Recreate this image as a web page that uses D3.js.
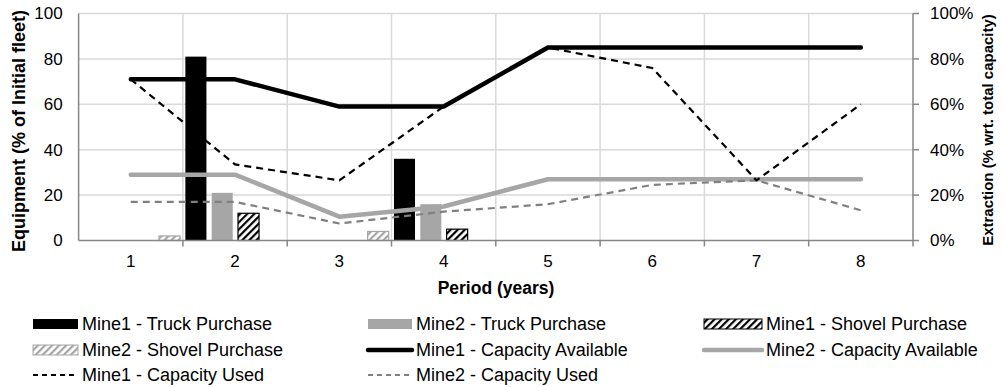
<!DOCTYPE html>
<html><head><meta charset="utf-8">
<script src="https://cdn.jsdelivr.net/npm/d3@7"></script>
<style>
body{margin:0;background:#fff;}
text{font-family:"Liberation Sans",Arial,sans-serif;fill:#000;}
</style></head>
<body><svg id="c" width="1003" height="387"></svg>
<script>
const periods = [1,2,3,4,5,6,7,8];
const leftTicks = [0,20,40,60,80,100];
const rightTicks = [0,0.2,0.4,0.6,0.8,1.0];
// bar series (Equipment, % of initial fleet)
const mine1Truck  = [0,81,0,36,0,0,0,0];
const mine2Truck  = [0,21,0,16,0,0,0,0];
const mine1Shovel = [0,12,0,5,0,0,0,0];
const mine2Shovel = [0,2,0,4,0,0,0,0];
// line series (Extraction, fraction of total capacity)
const mine1CapAvail = [0.71,0.71,0.59,0.59,0.85,0.85,0.85,0.85];
const mine2CapAvail = [0.29,0.29,0.105,0.15,0.27,0.27,0.27,0.27];
const mine1CapUsed  = [0.71,0.335,0.265,0.59,0.85,0.76,0.265,0.60];
const mine2CapUsed  = [0.17,0.17,0.075,0.127,0.16,0.245,0.265,0.133];

const svg = d3.select("#c");
const L=78.6, R=913, T=13.5, B=240.5;
const x = d3.scaleBand().domain(periods).range([L,R]);
const cx = p => x(p)+x.bandwidth()/2;
const y = d3.scaleLinear().domain([0,100]).range([B,T]);
const y2 = d3.scaleLinear().domain([0,1]).range([B,T]);

// patterns
const defs = svg.append("defs");
function hatch(id,color){
  const p = defs.append("pattern").attr("id",id).attr("patternUnits","userSpaceOnUse")
    .attr("width",5).attr("height",5).attr("patternTransform","rotate(45)");
  p.append("rect").attr("width",5).attr("height",5).attr("fill","#fff");
  p.append("rect").attr("width",2.2).attr("height",5).attr("fill",color);
}
hatch("h1","#000");
hatch("h2","#a6a6a6");

// gridlines
const g = svg.append("g");
g.selectAll(".hg").data(leftTicks.slice(1)).join("line")
  .attr("x1",L).attr("x2",R).attr("y1",d=>y(d)).attr("y2",d=>y(d))
  .attr("stroke","#d9d9d9").attr("stroke-width",1.5);
g.selectAll(".vg").data(periods.slice(1)).join("line")
  .attr("x1",d=>x(d)).attr("x2",d=>x(d)).attr("y1",T).attr("y2",B)
  .attr("stroke","#d9d9d9").attr("stroke-width",1.5);

// bars
const inner = d3.scaleBand().domain(["s2","t1","t2","s1"]).range([-76,24]).paddingInner(0.2);
const barSeries = [
  {k:"s2", v:mine2Shovel, fill:"url(#h2)", stroke:"#a6a6a6"},
  {k:"t1", v:mine1Truck, fill:"#000", stroke:"none"},
  {k:"t2", v:mine2Truck, fill:"#a6a6a6", stroke:"none"},
  {k:"s1", v:mine1Shovel, fill:"url(#h1)", stroke:"#000"}
];
barSeries.forEach(s=>{
  svg.append("g").selectAll("rect").data(periods.map((p,i)=>({p,v:s.v[i]})).filter(d=>d.v>0)).join("rect")
    .attr("x",d=>cx(d.p)+inner(s.k)).attr("width",inner.bandwidth())
    .attr("y",d=>y(d.v)).attr("height",d=>B-y(d.v))
    .attr("fill",s.fill).attr("stroke",s.stroke).attr("stroke-width",1.2);
});

// lines
const lineGen = d3.line().x((d,i)=>cx(periods[i])).y(d=>y2(d));
const lines = [
  {v:mine2CapAvail, c:"#a6a6a6", w:4.5, dash:null},
  {v:mine2CapUsed, c:"#808080", w:2.2, dash:"7,5"},
  {v:mine1CapAvail, c:"#000", w:4.5, dash:null},
  {v:mine1CapUsed, c:"#000", w:2.2, dash:"7,5"}
];
lines.forEach(l=>{
  svg.append("path").attr("d",lineGen(l.v)).attr("fill","none")
    .attr("stroke",l.c).attr("stroke-width",l.w).attr("stroke-dasharray",l.dash)
    .attr("stroke-linejoin","round").attr("stroke-linecap", l.dash?"butt":"round");
});

// axes
const ax = svg.append("g").attr("stroke","#868686").attr("stroke-width",1.5);
ax.append("line").attr("x1",L).attr("x2",L).attr("y1",T).attr("y2",B);
ax.append("line").attr("x1",R).attr("x2",R).attr("y1",T).attr("y2",B);
ax.append("line").attr("x1",L).attr("x2",R).attr("y1",B).attr("y2",B);
ax.selectAll(".bt").data(periods.slice(1).concat(["end"])).join("line")
  .attr("x1",d=>d==="end"?R:x(d)).attr("x2",d=>d==="end"?R:x(d)).attr("y1",B).attr("y2",B+6);
ax.selectAll(".rt").data(rightTicks).join("line")
  .attr("x1",R).attr("x2",R+6).attr("y1",d=>y2(d)).attr("y2",d=>y2(d));

const leftAxis = d3.axisLeft(y).tickValues(leftTicks).tickSize(0).tickPadding(16);
svg.append("g").attr("transform",`translate(${L},0)`).call(leftAxis)
  .call(s=>s.select(".domain").remove())
  .selectAll("text").attr("font-size",17).attr("font-family","Liberation Sans, Arial").attr("fill","#000");
const rightAxis = d3.axisRight(y2).tickValues(rightTicks).tickFormat(d3.format(".0%")).tickSize(0).tickPadding(17);
svg.append("g").attr("transform",`translate(${R},0)`).call(rightAxis)
  .call(s=>s.select(".domain").remove())
  .selectAll("text").attr("font-size",17).attr("font-family","Liberation Sans, Arial").attr("fill","#000");
const bottomAxis = d3.axisBottom(x).tickSize(0).tickPadding(14);
svg.append("g").attr("transform",`translate(0,${B})`).call(bottomAxis)
  .call(s=>s.select(".domain").remove())
  .selectAll("text").attr("font-size",17).attr("font-family","Liberation Sans, Arial").attr("fill","#000");

// titles
svg.append("text").attr("transform",`translate(25,131) rotate(-90)`).attr("text-anchor","middle")
  .attr("font-size",18).attr("font-weight","bold")
  .text("Equipment (% of Initial fleet)");
svg.append("text").attr("transform",`translate(993,130) rotate(-90)`).attr("text-anchor","middle")
  .attr("font-size",15).attr("font-weight","bold")
  .text("Extraction (% wrt. total capacity)");
svg.append("text").attr("x",496).attr("y",294).attr("text-anchor","middle")
  .attr("font-size",17.5).attr("font-weight","bold").text("Period (years)");

// legend
const legendItems = [
  {t:"Mine1 - Truck Purchase", type:"rect", fill:"#000", stroke:"none", col:0,row:0},
  {t:"Mine2 - Truck Purchase", type:"rect", fill:"#a6a6a6", stroke:"none", col:1,row:0},
  {t:"Mine1 - Shovel Purchase", type:"rect", fill:"url(#h1)", stroke:"#000", col:2,row:0},
  {t:"Mine2 - Shovel Purchase", type:"rect", fill:"url(#h2)", stroke:"#a6a6a6", col:0,row:1},
  {t:"Mine1 - Capacity Available", type:"line", c:"#000", w:4.5, dash:null, col:1,row:1},
  {t:"Mine2 - Capacity Available", type:"line", c:"#a6a6a6", w:4.5, dash:null, col:2,row:1},
  {t:"Mine1 - Capacity Used", type:"line", c:"#000", w:2.2, dash:"5,4", col:0,row:2},
  {t:"Mine2 - Capacity Used", type:"line", c:"#808080", w:2.2, dash:"5,4", col:1,row:2}
];
const colX = [[33,78,82],[368,412,416],[704,762,766]];
const rowY = [324,350,375];
legendItems.forEach(it=>{
  const [x0,x1,tx] = colX[it.col];
  const yy = rowY[it.row];
  if(it.type==="rect"){
    svg.append("rect").attr("x",x0).attr("y",yy-5).attr("width",x1-x0).attr("height",10)
      .attr("fill",it.fill).attr("stroke",it.stroke).attr("stroke-width",1);
  } else {
    svg.append("line").attr("x1",x0).attr("x2",x1).attr("y1",yy).attr("y2",yy)
      .attr("stroke",it.c).attr("stroke-width",it.w).attr("stroke-dasharray",it.dash)
      .attr("stroke-linecap",it.dash?"butt":"round");
  }
  svg.append("text").attr("x",tx).attr("y",yy).attr("dy","0.35em").attr("font-size",18).text(it.t);
});
</script></body></html>
